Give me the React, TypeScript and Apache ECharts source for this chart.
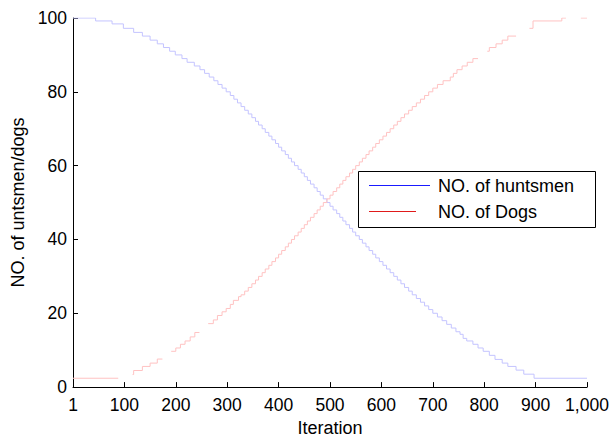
import React, { useEffect, useRef } from "react";
import * as echarts from "echarts";

const xTicks = [0, 100, 200, 300, 400, 500, 600, 700, 800, 900, 1000];
const xTickLabels = ["1", "100", "200", "300", "400", "500", "600", "700", "800", "900", "1,000"];
const legendNames = ["NO. of huntsmen", "NO. of Dogs"];

const huntsmenIter = [
  0, 44, 76, 98, 118, 135, 150, 164, 176, 188, 199, 212, 222, 236, 247,
  256, 265, 274, 282, 290, 298, 306, 313, 320, 327, 334, 341, 348, 355, 361,
  368, 374, 381, 387, 394, 400, 406, 413, 419, 425, 431, 438, 444, 450, 456,
  462, 469, 475, 481, 487, 494, 500, 506, 513, 519, 525, 531, 538, 544, 550,
  557, 563, 570, 576, 583, 589, 596, 603, 610, 617, 624, 631, 638, 645, 653,
  660, 668, 676, 684, 692, 700, 709, 718, 727, 736, 745, 753, 759, 766, 778,
  788, 798, 810, 821, 835, 846, 862, 877, 897, 1000,
];
const huntsmenVal = [
  100, 99.2, 98.4, 97.2, 96.1, 95.1, 94, 93, 92, 91, 90, 89, 88, 87, 86,
  85, 84, 83, 82, 81, 80, 79, 78, 77, 76, 75, 74, 73, 72, 71,
  70, 69, 68, 67, 66, 65, 64, 63, 62, 61, 60, 59, 58, 57, 56,
  55, 54, 53, 52, 51, 50, 49, 48, 47, 46, 45, 44, 43, 42, 41,
  40, 39, 38, 37, 36, 35, 34, 33, 32, 31, 30, 29, 28, 27, 26,
  25, 24, 23, 22, 21, 20, 19, 18, 17, 16, 15, 14.3, 13.2, 12.5, 11.6,
  10.6, 9.7, 8.6, 7.5, 6.5, 5.6, 4.6, 3.5, 2.4, 2.4,
];

// null values mark the breaks visible in the thin dogs line
const dogsIter = [
  0, 88, 88, 116, 118, 135, 150, 164, 174, 174, 191, 200, 209, 218, 228, 237, 246, 246, 263,
  273, 281, 290, 298, 306, 312, 322, 327, 334, 341, 348, 355, 361, 368, 374,
  381, 387, 394, 400, 406, 413, 419, 425, 431, 438, 444, 450, 456, 462, 469,
  475, 481, 487, 494, 500, 506, 513, 519, 525, 531, 538, 544, 550, 557, 563,
  570, 576, 583, 589, 596, 603, 610, 617, 624, 631, 638, 645, 653, 660, 668,
  676, 684, 692, 700, 709, 720, 734, 740, 747, 757, 767, 778, 788, 788, 806, 810,
  823, 835, 846, 862, 862, 888, 895, 951, 959, 959, 988, 1000,
];
const dogsVal: (number | null)[] = [
  2.4, 2.4, null, 3.4, 4.5, 5.6, 6.5, 7.6, 7.6, null, 9.7, 10.6, 11.6, 12.5, 13.6, 14.8, 14.8, null, 17.2,
  18.2, 19.4, 20.4, 21.3, 22.4, 23.5, 24.5, 25, 26, 27, 28, 29, 30, 31, 32,
  33, 34, 35, 36, 37, 38, 39, 40, 41, 42, 43, 44, 45, 46, 47,
  48, 49, 50, 51, 52, 53, 54, 55, 56, 57, 58, 59, 60, 61, 62,
  63, 64, 65, 66, 67, 68, 69, 70, 71, 72, 73, 74, 75, 76, 77,
  78, 79, 80, 81, 82, 83, 84, 85, 86, 87, 88, 89, 89, null, 91, 92,
  93, 94, 95.1, 95.1, null, 97.2, 99.2, 100, 100, null, 100, 100,
];

const FONT = "'Liberation Sans', Arial, Helvetica, sans-serif";

export default function App() {
  const ref = useRef<HTMLDivElement>(null);
  useEffect(() => {
    const chart = echarts.init(ref.current!, null, { renderer: "svg" });
    const zip = (xs: number[], ys: (number | null)[]) =>
      xs.map((x, i) => (ys[i] === null ? [x, "-"] : [x, ys[i]]));
    chart.setOption({
      animation: false,
      backgroundColor: "#ffffff",
      textStyle: { fontFamily: FONT },
      grid: { left: 73, right: 26, top: 18, bottom: 53, containLabel: false },
      xAxis: {
        type: "value",
        min: 0,
        max: 1000,
        interval: 100,
        name: "Iteration",
        nameLocation: "middle",
        nameGap: 31,
        nameTextStyle: { color: "#000", fontSize: 18, fontFamily: FONT },
        axisLine: { show: true, lineStyle: { color: "#000", width: 1 } },
        axisTick: { show: true, inside: true, length: 5, lineStyle: { color: "#000" } },
        axisLabel: {
          color: "#000",
          fontSize: 17.5,
          fontFamily: FONT,
          margin: 9,
          formatter: (v: number) => {
            const i = xTicks.indexOf(v);
            return i >= 0 ? xTickLabels[i] : "";
          },
        },
        splitLine: { show: false },
      },
      yAxis: {
        type: "value",
        min: 0,
        max: 100,
        interval: 20,
        name: "NO. of untsmen/dogs",
        nameLocation: "middle",
        nameGap: 43,
        nameRotate: 90,
        nameTextStyle: { color: "#000", fontSize: 18, fontFamily: FONT },
        axisLine: { show: true, lineStyle: { color: "#000", width: 1 } },
        axisTick: { show: true, inside: true, length: 5, lineStyle: { color: "#000" } },
        axisLabel: { color: "#000", fontSize: 17.5, fontFamily: FONT, margin: 6 },
        splitLine: { show: false },
      },
      series: [
        {
          name: legendNames[0],
          type: "line",
          step: "end",
          showSymbol: false,
          lineStyle: { color: "#c4c4ff", width: 1 },
          itemStyle: { color: "#c4c4ff" },
          data: zip(huntsmenIter, huntsmenVal),
        },
        {
          name: legendNames[1],
          type: "line",
          step: "end",
          showSymbol: false,
          connectNulls: false,
          lineStyle: { color: "#ffc2c2", width: 1 },
          itemStyle: { color: "#ffc2c2" },
          data: zip(dogsIter, dogsVal),
        },
      ],
      graphic: [
        {
          type: "group",
          z: 100,
          children: [
            {
              type: "rect",
              shape: { x: 358.5, y: 171.5, width: 237, height: 56 },
              style: { fill: "#fff", stroke: "#000", lineWidth: 1 },
            },
            {
              type: "line",
              shape: { x1: 369, y1: 185.5, x2: 430, y2: 185.5 },
              style: { stroke: "#1a1aff", lineWidth: 1 },
            },
            {
              type: "line",
              shape: { x1: 369, y1: 211.5, x2: 416, y2: 211.5 },
              style: { stroke: "#e01a1a", lineWidth: 1 },
            },
            {
              type: "text",
              x: 438,
              y: 186,
              style: {
                text: legendNames[0],
                fill: "#000",
                font: `18px ${FONT}`,
                verticalAlign: "middle",
              },
            },
            {
              type: "text",
              x: 438,
              y: 212,
              style: {
                text: legendNames[1],
                fill: "#000",
                font: `18px ${FONT}`,
                verticalAlign: "middle",
              },
            },
          ],
        },
      ],
    });
    return () => chart.dispose();
  }, []);
  return (
    <div
      ref={ref}
      style={{ position: "fixed", left: 0, top: 0, width: 613, height: 442 }}
    />
  );
}
